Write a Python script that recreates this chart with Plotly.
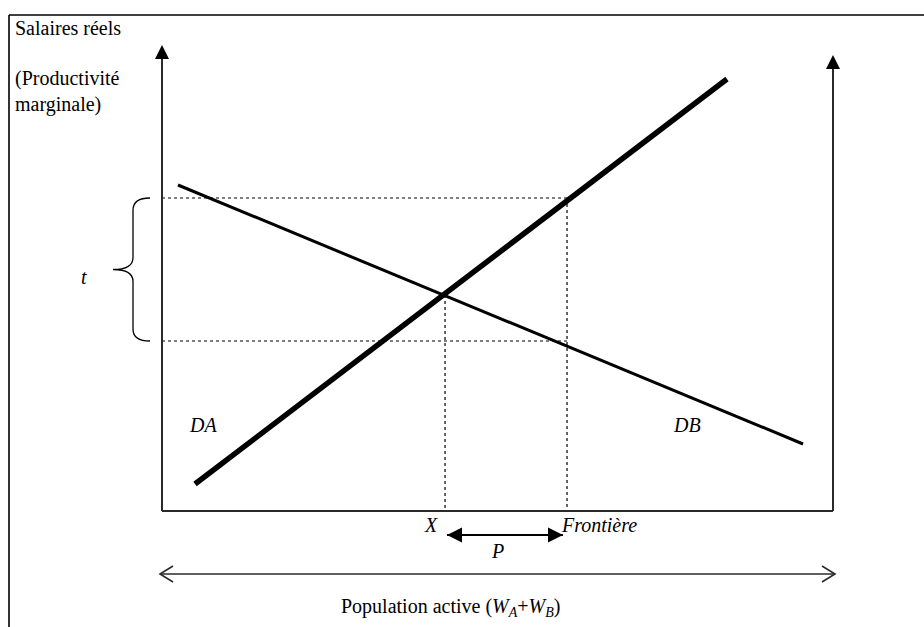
import plotly.graph_objects as go

# ---- data (economic units: population 0..100, wage 0..100) ----
courbe_DA_x = [2.38, 95.53]     # thin, decreasing
courbe_DA_y = [69.96, 14.38]
courbe_DB_x = [4.92, 84.20]     # thick, increasing
courbe_DB_y = [5.79, 92.70]

equilibre_x = 42.18
equilibre_w = 46.35
frontiere_x = 60.36
salaire_haut = 67.17
salaire_bas = 36.48

axe_gauche_haut = 100.0
axe_droit_x = 100.0
axe_droit_haut = 97.85

fleche_P = [42.47, 59.76]
fleche_P_y = -5.15
fleche_pop = [-0.30, 100.30]
fleche_pop_y = -13.52

labels = {
    "t": (-11.62, 50.2),
    "DA": (6.11, 18.45),
    "DB": (78.24, 18.45),
    "X": (40.09, -3.0),
    "P": (50.07, -8.58),
}

# ---- layout scale ----
W, H = 924, 627
OX, OY = 162, 511
SX, SY = 6.71, 4.66
x_range = [(0 - OX) / SX, (W - OX) / SX]
y_range = [(OY - H) / SY, OY / SY]

FONT = "Liberation Serif, Times New Roman, serif"
FS = 20
AX_COL = "#2a2a2a"

fig = go.Figure()
skip = dict(hoverinfo="skip", showlegend=False)

# demand curves
fig.add_trace(go.Scatter(x=courbe_DA_x, y=courbe_DA_y, mode="lines",
                         line=dict(color="black", width=3), **skip))
fig.add_trace(go.Scatter(x=courbe_DB_x, y=courbe_DB_y, mode="lines",
                         line=dict(color="black", width=5.5), **skip))

# dotted guides
dot = dict(color="black", width=1.2, dash="dot")
fig.add_trace(go.Scatter(x=[0, frontiere_x], y=[salaire_haut, salaire_haut], mode="lines", line=dot, **skip))
fig.add_trace(go.Scatter(x=[0, frontiere_x], y=[salaire_bas, salaire_bas], mode="lines", line=dot, **skip))
fig.add_trace(go.Scatter(x=[equilibre_x, equilibre_x], y=[equilibre_w, 0], mode="lines", line=dot, **skip))
fig.add_trace(go.Scatter(x=[frontiere_x, frontiere_x], y=[salaire_haut, 0], mode="lines", line=dot, **skip))

# axes: bottom, left, right
axl = dict(color=AX_COL, width=2)
fig.add_trace(go.Scatter(x=[0, axe_droit_x], y=[0, 0], mode="lines", line=axl, **skip))
fig.add_trace(go.Scatter(x=[0, 0], y=[0, axe_gauche_haut - 2], mode="lines", line=axl, **skip))
fig.add_trace(go.Scatter(x=[axe_droit_x, axe_droit_x], y=[0, axe_droit_haut - 2], mode="lines", line=axl, **skip))
fig.add_trace(go.Scatter(x=[0, axe_droit_x], y=[axe_gauche_haut, axe_droit_haut], mode="markers",
                         marker=dict(symbol="arrow-up", size=14, color="black", line=dict(width=0)), **skip))

# P double arrow (filled heads)
fig.add_trace(go.Scatter(x=fleche_P, y=[fleche_P_y, fleche_P_y], mode="lines",
                         line=dict(color="black", width=2), **skip))
fig.add_trace(go.Scatter(x=fleche_P, y=[fleche_P_y, fleche_P_y], mode="markers",
                         marker=dict(symbol=["arrow-left", "arrow-right"], size=15, color="black",
                                     line=dict(width=0)), **skip))

# population double arrow (open chevron heads)
fig.add_trace(go.Scatter(x=fleche_pop, y=[fleche_pop_y, fleche_pop_y], mode="lines",
                         line=dict(color=AX_COL, width=1.6), **skip))
cl, ch = 13 / SX, 8 / SY   # chevron length / half-height in data units
chev_x = [fleche_pop[0] + cl, fleche_pop[0], fleche_pop[0] + cl, None,
          fleche_pop[1] - cl, fleche_pop[1], fleche_pop[1] - cl]
chev_y = [fleche_pop_y + ch, fleche_pop_y, fleche_pop_y - ch, None,
          fleche_pop_y + ch, fleche_pop_y, fleche_pop_y - ch]
fig.add_trace(go.Scatter(x=chev_x, y=chev_y, mode="lines", line=dict(color=AX_COL, width=1.6), **skip))

annotations = []
tfont = dict(family=FONT, size=FS, color="black")
for k, (lx, ly) in labels.items():
    annotations.append(dict(x=lx, y=ly, xref="x", yref="y", text=f"<i>{k}</i>",
                            showarrow=False, font=tfont, xanchor="center", yanchor="middle"))
annotations.append(dict(x=frontiere_x - 1.2, y=-3.0, xref="x", yref="y", text="<i>Frontière</i>",
                        showarrow=False, font=tfont, xanchor="left", yanchor="middle"))
annotations.append(dict(x=43.0, y=-20.6, xref="x", yref="y",
                        text="Population active (<i>W<sub>A</sub></i>+<i>W<sub>B</sub></i>)",
                        showarrow=False, font=tfont, xanchor="center", yanchor="middle"))
annotations.append(dict(x=13 / W, y=1 - 28 / H, xref="paper", yref="paper", text="Salaires réels",
                        showarrow=False, font=tfont, xanchor="left", yanchor="middle"))
annotations.append(dict(x=13 / W, y=1 - 92 / H, xref="paper", yref="paper",
                        text="(Productivité<br>marginale)", align="left",
                        showarrow=False, font=tfont, xanchor="left", yanchor="middle"))

# brace for t, built from the two wage levels
bx_end, bx_spine, bx_tip = -1.79, -4.32, -7.30
d = 2.6
ym = (salaire_haut + salaire_bas) / 2
brace = (f"M{bx_end},{salaire_haut} Q{bx_spine},{salaire_haut} {bx_spine},{salaire_haut - d} "
         f"L{bx_spine},{ym + d} Q{bx_spine},{ym} {bx_tip},{ym} "
         f"Q{bx_spine},{ym} {bx_spine},{ym - d} "
         f"L{bx_spine},{salaire_bas + d} Q{bx_spine},{salaire_bas} {bx_end},{salaire_bas}")

shapes = [
    dict(type="path", path=brace, xref="x", yref="y", line=dict(color="black", width=1.3)),
    # page frame
    dict(type="line", xref="paper", yref="paper", x0=9 / W, x1=1, y0=1 - 15 / H, y1=1 - 15 / H,
         line=dict(color="black", width=1.6)),
    dict(type="line", xref="paper", yref="paper", x0=9 / W, x1=9 / W, y0=0, y1=1 - 15 / H,
         line=dict(color="black", width=1.6)),
]

fig.update_layout(
    width=W, height=H, margin=dict(l=0, r=0, t=0, b=0),
    paper_bgcolor="white", plot_bgcolor="white", showlegend=False,
    xaxis=dict(range=x_range, visible=False, fixedrange=True),
    yaxis=dict(range=y_range, visible=False, fixedrange=True),
    annotations=annotations, shapes=shapes,
)
fig.write_html("out.html", config={"displayModeBar": False},
               post_script="document.body.style.margin='0px';document.body.style.overflow='hidden';")
